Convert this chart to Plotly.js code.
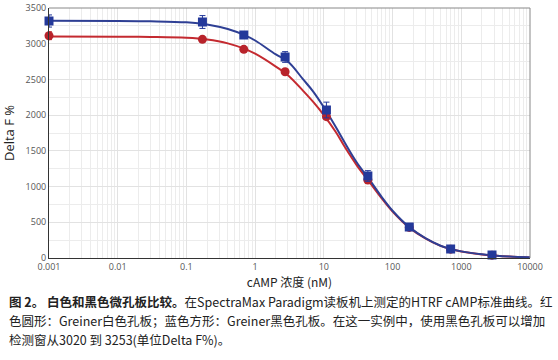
<!DOCTYPE html>
<html>
<head>
<meta charset="utf-8">
<script src="https://cdn.plot.ly/plotly-3.0.1.min.js"></script>
<style>html,body{margin:0;padding:0;background:#fff;}#chart{width:558px;height:360px;}</style>
</head>
<body>
<div id="chart"></div>
<script>
// Measured points (zero concentration plotted at the axis minimum 0.001)
const concentration = [0.001, 0.171, 0.684, 2.73, 10.9, 43.7, 175, 700, 2800];
const whitePlate = [3112, 3061, 2921, 2608, 1979, 1092, 428, 124, 40];
const whiteErr = [55, 20, 20, 25, 30, 30, 20, 15, 10];
const blackPlate = [3318, 3304, 3122, 2814, 2072, 1148, 434, 126, 42];
const blackErr = [85, 90, 30, 75, 110, 75, 25, 15, 12];

// Fitted curves
const curveX = [0.001, 0.01, 0.03, 0.1, 0.2, 0.4, 0.7, 1, 2, 3, 5, 7, 10, 15, 20, 30, 45, 70, 100, 175, 300, 500, 700, 1000, 2000, 3000, 5000, 10000];
const whiteCurve = [3100, 3098, 3094, 3082, 3058, 3005, 2928, 2860, 2680, 2560, 2340, 2185, 2000, 1760, 1560, 1300, 1075, 830, 650, 425, 275, 170, 125, 92, 50, 35, 20, 8];
const blackCurve = [3320, 3318, 3314, 3300, 3270, 3205, 3120, 3045, 2850, 2750, 2500, 2330, 2110, 1830, 1620, 1340, 1110, 850, 662, 432, 278, 172, 127, 93, 51, 36, 21, 9];

const xTickVals = [0.001, 0.01, 0.1, 1, 10, 100, 1000, 10000];
const xTickText = ['0.001', '0.01', '0.1', '1', '10', '100', '1000', '10000'];
const yTickVals = [0, 500, 1000, 1500, 2000, 2500, 3000, 3500];

const redCol = '#b8232b';
const blueCol = '#24399a';

const traces = [
  {x: curveX, y: whiteCurve, type: 'scatter', mode: 'lines', line: {color: '#c42a30', width: 2, shape: 'spline'}, hoverinfo: 'skip', cliponaxis: false},
  {x: curveX, y: blackCurve, type: 'scatter', mode: 'lines', line: {color: '#2e3f94', width: 2, shape: 'spline'}, hoverinfo: 'skip', cliponaxis: false},
  {x: concentration, y: whitePlate, type: 'scatter', mode: 'markers', marker: {symbol: 'circle', size: 9, color: redCol},
   error_y: {type: 'data', array: whiteErr, color: redCol, thickness: 1, width: 3}, cliponaxis: false},
  {x: concentration, y: blackPlate, type: 'scatter', mode: 'markers', marker: {symbol: 'square', size: 9, color: blueCol},
   error_y: {type: 'data', array: blackErr, color: blueCol, thickness: 1, width: 3}, cliponaxis: false}
];

const cap = 'Noto Sans CJK SC, Noto Sans, sans-serif';
const layout = {
  width: 558, height: 360,
  margin: {l: 49, r: 28, t: 8, b: 102},
  paper_bgcolor: '#fff', plot_bgcolor: '#fff',
  showlegend: false,
  font: {family: 'Open Sans, Noto Sans, sans-serif', color: '#444'},
  xaxis: {
    type: 'log', range: [-3, 4],
    tickvals: xTickVals, ticktext: xTickText,
    tickfont: {size: 9, color: '#555'},
    showgrid: true, gridcolor: '#e2e2e2', gridwidth: 1,
    minor: {dtick: 'D1', showgrid: true, gridcolor: '#ececec', gridwidth: 1},
    showline: true, linecolor: '#333', linewidth: 1,
    ticks: '', zeroline: false,
    title: {text: 'cAMP 浓度 (nM)', font: {size: 12, color: '#222', family: cap}, standoff: 4}
  },
  yaxis: {
    range: [0, 3500], tickvals: yTickVals,
    tickfont: {size: 9, color: '#555'},
    showgrid: true, gridcolor: '#e2e2e2',
    minor: {dtick: 250, showgrid: true, gridcolor: '#ececec'},
    showline: true, linecolor: '#333', linewidth: 1,
    ticks: '', zeroline: false,
    title: {text: 'Delta F %', font: {size: 13, color: '#222'}, standoff: 8}
  },
  shapes: [
    {type: 'line', xref: 'paper', yref: 'paper', x0: 0, x1: 1, y0: 1, y1: 1, line: {color: '#888', width: 1}},
    {type: 'line', xref: 'paper', yref: 'paper', x0: 1, x1: 1, y0: 0, y1: 1, line: {color: '#888', width: 1}}
  ],
  annotations: [
    {xref: 'paper', yref: 'paper', x: -0.087, y: -0.175, xanchor: 'left', yanchor: 'middle', showarrow: false,
     font: {family: cap, size: 12.5, color: '#222'},
     text: '<b>图 2。 白色和黑色微孔板比较。</b>在SpectraMax Paradigm读板机上测定的HTRF cAMP标准曲线。红'},
    {xref: 'paper', yref: 'paper', x: -0.087, y: -0.251, xanchor: 'left', yanchor: 'middle', showarrow: false,
     font: {family: cap, size: 12.5, color: '#222'},
     text: '色圆形：Greiner白色孔板；蓝色方形：Greiner黑色孔板。在这一实例中，使用黑色孔板可以增加'},
    {xref: 'paper', yref: 'paper', x: -0.087, y: -0.327, xanchor: 'left', yanchor: 'middle', showarrow: false,
     font: {family: cap, size: 12.5, color: '#222'},
     text: '检测窗从3020 到 3253(单位Delta F%)。'}
  ]
};

Plotly.newPlot('chart', traces, layout, {displayModeBar: false, staticPlot: true});
</script>
</body>
</html>
